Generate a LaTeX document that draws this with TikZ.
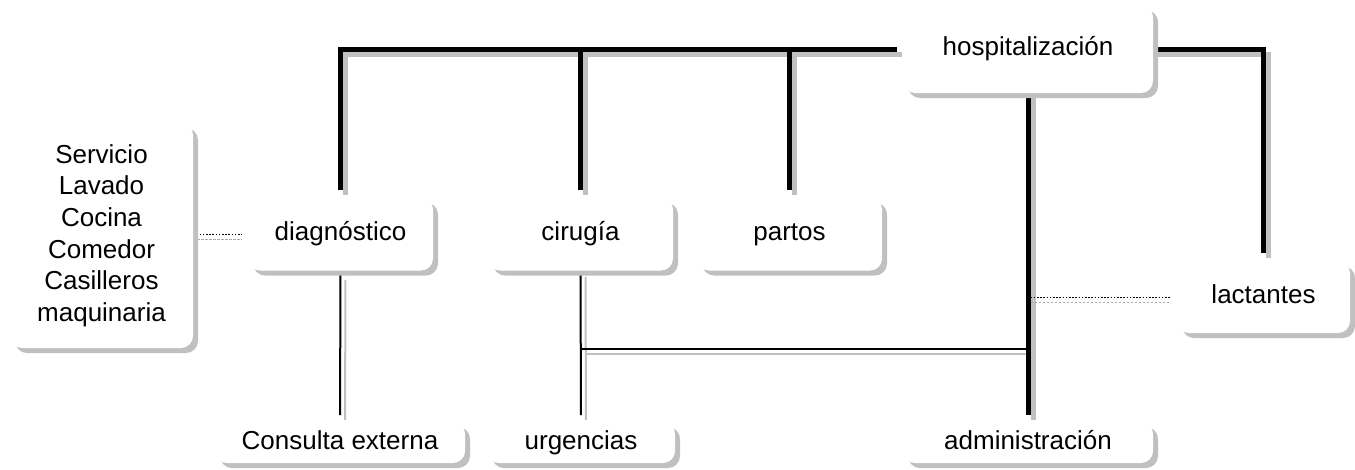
\documentclass[tikz,border=0pt]{standalone}
\usepackage{fontspec}
\setmainfont{Liberation Sans}
\usetikzlibrary{shadows}
\definecolor{shadowgray}{RGB}{192,192,192}
\definecolor{dotgray}{RGB}{170,170,170}
\pgfdeclarelayer{background}
\pgfsetlayers{background,main}
\tikzset{
  box/.style={rectangle, rounded corners=9pt, fill=white, draw=none, inner sep=0pt,
    align=center, font=\fontsize{19.5pt}{23.7pt}\selectfont,
    copy shadow={shadow xshift=3.75pt, shadow yshift=-3.75pt, fill=shadowgray, draw=none}},
  onebox/.style={box, text height=14.2pt, text depth=4.1pt},
  thickconn/.style={line width=3.75pt},
  thinconn/.style={line width=1.5pt},
  dotconn/.style={line width=0.75pt, dash pattern=on 1.2pt off 1.2pt},
  shad/.style={draw=shadowgray, transform canvas={shift={(3.75pt,-3.75pt)}}},
  ink/.style={draw=black},
}
\begin{document}
\begin{tikzpicture}[x=0.75pt, y=-0.75pt]
\useasboundingbox (0,0) rectangle (1355,469);
% boxes
\node[box, minimum width=137.25pt, minimum height=168.75pt] (serv) at (101.5,235.5)
  {Servicio\\Lavado\\Cocina\\Comedor\\Casilleros\\maquinaria};
\node[onebox, minimum width=138.75pt, minimum height=54.75pt] (diag) at (340.5,234) {diagnóstico};
\node[onebox, minimum width=138.75pt, minimum height=54.75pt] (cir) at (580.5,234) {cirugía};
\node[onebox, minimum width=138.75pt, minimum height=54.75pt] (par) at (789.5,234) {partos};
\node[onebox, minimum width=187.5pt, minimum height=66pt] (hosp) at (1028,49) {hospitalización};
\node[onebox, minimum width=129.75pt, minimum height=54pt] (lact) at (1263.5,297) {lactantes};
\node[onebox, minimum width=187.5pt, minimum height=30.75pt] (cons) at (340,442.5) {Consulta externa};
\node[onebox, minimum width=141pt, minimum height=30.75pt] (urg) at (581,442.5) {urgencias};
\node[onebox, minimum width=187.5pt, minimum height=30.75pt] (adm) at (1028,442.5) {administración};
% junction coordinates
\coordinate (j1) at (580.5,349);
\coordinate (j2) at (hosp.south |- j1);
\coordinate (j3) at (hosp.south |- lact.west);
\begin{pgfonlayer}{background}
\foreach \st in {shad,ink}{
  % thick tree from hospitalizacion
  \draw[thickconn,\st, shorten <=4.5pt, shorten >=5.5pt] (hosp.west) -| (diag.north);
  \draw[thickconn,\st, shorten >=5.5pt] (cir.north |- hosp.west) -- (cir.north);
  \draw[thickconn,\st, shorten >=5.5pt] (par.north |- hosp.west) -- (par.north);
  \draw[thickconn,\st, shorten >=6pt] (hosp.east) -| (lact.north);
  \draw[thickconn,\st, shorten >=5pt] (hosp.south) -- (adm.north);
  % thin connectors
  \draw[thinconn,\st, shorten <=3pt, shorten >=5pt] (diag.south) -- (cons.north);
  \draw[thinconn,\st, shorten <=1pt, shorten >=5pt] (cir.south) -- (urg.north);
  \draw[thinconn,\st] (j1) -- (j2);
}
% dotted connectors
\draw[dotconn,draw=dotgray, dash pattern=on 2pt off 1pt, transform canvas={shift={(0pt,-3.75pt)}}, shorten >=4pt] (serv.east |- diag.west) -- (diag.west);
\draw[dotconn,draw=black, shorten >=4pt] (serv.east |- diag.west) -- (diag.west);
\draw[dotconn,draw=dotgray, dash pattern=on 2pt off 1pt, transform canvas={shift={(0pt,-3.75pt)}}, shorten <=2pt, shorten >=5pt] (j3) -- (lact.west);
\draw[dotconn,draw=black, shorten <=2pt, shorten >=5pt] (j3) -- (lact.west);
\end{pgfonlayer}
\end{tikzpicture}
\end{document}
